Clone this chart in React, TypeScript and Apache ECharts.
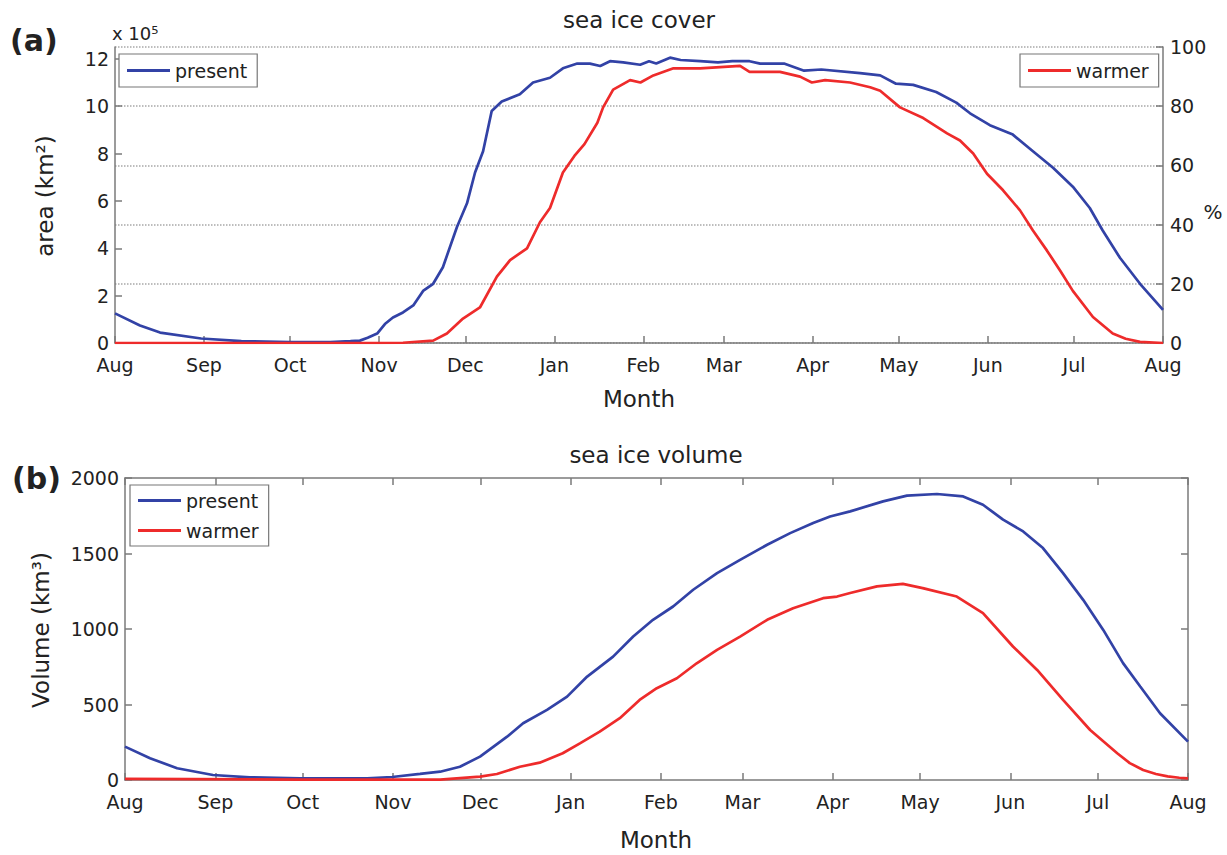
import React, { useEffect, useRef } from "react";
import * as echarts from "echarts";

const MONTH_TICKS = [0, 31, 61, 92, 122, 153, 184, 212, 243, 273, 304, 334, 365];
const MONTH_LABELS = ["Aug", "Sep", "Oct", "Nov", "Dec", "Jan", "Feb", "Mar", "Apr", "May", "Jun", "Jul", "Aug"];
const AREA_TICKS = [0, 2, 4, 6, 8, 10, 12];
const PCT_TICKS = [0, 20, 40, 60, 80, 100];
const VOL_TICKS = [0, 500, 1000, 1500, 2000];

// sea ice cover (area, x 10^5 km^2), present
const presentAreaDays = [0, 8.7, 15.7, 30, 44, 61, 75, 82, 85.3, 88, 91.3, 94, 96.8, 100.3, 104, 107.3, 110.8, 114.2, 119.1, 122.6, 125.4, 128.2, 131.2, 134.7, 141, 145.6, 151.5, 156, 161, 165.4, 169, 172.4, 177, 182.9, 186, 188.5, 193.3, 197, 203.8, 210, 215, 221, 224.7, 233, 240, 246, 259.5, 266.5, 272, 278, 286, 293, 297.8, 304.7, 312.7, 319.7, 326.7, 333.6, 339.5, 344, 350, 357, 365];
const presentArea = [1.25, 0.74, 0.44, 0.19, 0.08, 0.04, 0.04, 0.08, 0.1, 0.22, 0.4, 0.8, 1.08, 1.29, 1.6, 2.2, 2.5, 3.2, 4.9, 5.9, 7.2, 8.1, 9.8, 10.2, 10.5, 11.0, 11.2, 11.6, 11.8, 11.8, 11.7, 11.9, 11.85, 11.75, 11.9, 11.8, 12.05, 11.95, 11.9, 11.85, 11.9, 11.9, 11.8, 11.8, 11.5, 11.55, 11.4, 11.3, 10.95, 10.9, 10.6, 10.15, 9.7, 9.2, 8.8, 8.1, 7.4, 6.6, 5.7, 4.75, 3.6, 2.5, 1.4];

// sea ice cover (area, x 10^5 km^2), warmer
const warmerAreaDays = [0, 92, 100.3, 110.8, 115.6, 121.2, 127.1, 133, 137.6, 143.5, 148, 151.5, 156, 160, 163.5, 168, 170, 173.5, 179.4, 183, 187.5, 194.5, 203.8, 217.7, 221, 231.6, 238.6, 242.7, 247.3, 256, 263, 266.5, 273.4, 281.5, 289.8, 294.3, 298.9, 303.7, 309.3, 315.2, 319.7, 324.6, 329.2, 333.6, 340.6, 347.5, 352, 357, 365];
const warmerArea = [0, 0, 0.01, 0.1, 0.4, 1.03, 1.5, 2.8, 3.5, 4.0, 5.1, 5.7, 7.2, 7.9, 8.4, 9.3, 9.95, 10.7, 11.1, 11.0, 11.3, 11.6, 11.6, 11.7, 11.45, 11.45, 11.25, 11.0, 11.1, 11.0, 10.8, 10.65, 9.95, 9.5, 8.85, 8.55, 8.0, 7.15, 6.45, 5.6, 4.75, 3.9, 3.05, 2.2, 1.1, 0.4, 0.18, 0.05, 0];

// sea ice volume (km^3), present
const presentVolDays = [0, 8.6, 17.9, 30.2, 42.9, 60.1, 83.1, 91.7, 101.3, 108.2, 115, 121.9, 131.2, 136.7, 144.9, 151.8, 158.7, 167.6, 174.5, 181.3, 188.2, 195.1, 203.3, 211.2, 220.5, 228.4, 236.3, 242.1, 249, 260.3, 268.5, 278.8, 287.8, 294.6, 301.5, 308.4, 315.2, 322.1, 329, 335.9, 342.7, 348.6, 355.4, 365];
const presentVol = [221, 144, 78, 33, 18, 11, 11, 20, 40, 55, 88, 155, 287, 376, 464, 552, 685, 817, 950, 1061, 1149, 1260, 1370, 1458, 1558, 1635, 1702, 1745, 1779, 1845, 1883, 1894, 1878, 1823, 1724, 1646, 1536, 1370, 1193, 994, 774, 619, 442, 254];

// sea ice volume (km^3), warmer
const warmerVolDays = [0, 60, 100, 108.2, 121.9, 127.7, 135.6, 142.4, 150.3, 156.2, 163, 169.9, 176.7, 182.6, 189.5, 196.3, 203.3, 211.2, 220.5, 229.4, 239.7, 244.5, 249, 258.2, 267.1, 273.9, 285.6, 294.6, 304.9, 313.2, 322.1, 331.4, 340.7, 345, 349.6, 354, 358, 362, 365];
const warmerVol = [8, 2, 2, 3, 22, 40, 88, 115, 177, 243, 320, 409, 530, 608, 674, 773, 862, 950, 1061, 1138, 1204, 1215, 1238, 1282, 1299, 1271, 1215, 1105, 884, 729, 530, 331, 177, 112, 66, 40, 24, 15, 11];

const BLUE = "#3242a6";
const RED = "#ee2b2b";
const AX = "#7a7a7a";
const TXT = "#222222";
const FONT = "DejaVu Sans";

const pairs = (xs: number[], ys: number[]) => xs.map((x, i) => [x, ys[i]]);

const monthFmt = (v: number) => {
  const i = MONTH_TICKS.indexOf(Math.round(v));
  return i >= 0 ? MONTH_LABELS[i] : "";
};

function xAxisCfg(gridIndex: number, top = false) {
  return {
    type: "value",
    gridIndex,
    position: top ? "top" : "bottom",
    min: 0,
    max: 365,
    axisLine: { show: true, onZero: false, lineStyle: { color: AX, width: 1.5 } },
    axisTick: { show: true, inside: true, length: 7, customValues: MONTH_TICKS, lineStyle: { color: AX, width: 1.5 } },
    axisLabel: {
      show: !top,
      customValues: MONTH_TICKS,
      formatter: monthFmt,
      color: TXT,
      fontSize: 19,
      fontFamily: FONT,
      margin: 12,
    },
    splitLine: { show: false },
  };
}

function yAxisCfg(gridIndex: number, position: string, min: number, max: number, ticks: number[], showLabel: boolean, split = false) {
  return {
    type: "value",
    gridIndex,
    position,
    min,
    max,
    axisLine: { show: true, onZero: false, lineStyle: { color: AX, width: 1.5 } },
    axisTick: { show: true, inside: true, length: 7, customValues: ticks, lineStyle: { color: AX, width: 1.5 } },
    axisLabel: {
      show: showLabel,
      customValues: ticks,
      formatter: (v: number) => String(v),
      color: TXT,
      fontSize: 19,
      fontFamily: FONT,
      margin: position === "left" ? 6 : 7,
    },
    splitLine: split
      ? { show: true, lineStyle: { color: "#a8a8a8", width: 1.5, type: "dotted" } }
      : { show: false },
  };
}

function txt(text: string, x: number, y: number, size: number, opts: any = {}) {
  return {
    type: "text",
    x,
    y,
    rotation: opts.rotation || 0,
    style: {
      text,
      x: 0,
      y: 0,
      fill: TXT,
      fontSize: size,
      fontFamily: FONT,
      fontWeight: opts.bold ? "bold" : "normal",
      align: opts.align || "center",
      textAlign: opts.align || "center",
      verticalAlign: "middle",
      textVerticalAlign: "middle",
    },
  };
}

const legendBase = {
  borderColor: "#777",
  borderWidth: 1.2,
  backgroundColor: "#fff",
  icon: "rect",
  itemWidth: 43,
  itemHeight: 3,
  selectedMode: false,
  textStyle: { fontSize: 19, color: TXT, fontFamily: FONT },
};

export default function App() {
  const ref = useRef<HTMLDivElement>(null);
  useEffect(() => {
    if (!ref.current) return;
    const chart = echarts.init(ref.current, null, { renderer: "svg" });
    const lineStyle = (c: string) => ({ color: c, width: 2.7 });
    chart.setOption({
      animation: false,
      backgroundColor: "#ffffff",
      textStyle: { fontFamily: FONT },
      grid: [
        { left: 115, top: 47, width: 1048, height: 296, show: false },
        { left: 125, top: 478, width: 1063, height: 302, show: false },
      ],
      xAxis: [xAxisCfg(0), xAxisCfg(1), xAxisCfg(1, true)],
      yAxis: [
        yAxisCfg(0, "left", 0, 12.5, AREA_TICKS, true),
        yAxisCfg(0, "right", 0, 100, PCT_TICKS, true, true),
        yAxisCfg(1, "left", 0, 2000, VOL_TICKS, true),
        yAxisCfg(1, "right", 0, 2000, VOL_TICKS, false),
      ],
      legend: [
        { ...legendBase, data: ["present"], left: 119, top: 54, padding: [7, 10, 7, 8] },
        { ...legendBase, data: ["warmer"], left: 1020, top: 54, padding: [7, 10, 7, 8] },
        { ...legendBase, data: ["present", "warmer"], orient: "vertical", left: 130, top: 485, itemGap: 11, padding: [6, 10, 6, 8] },
      ],
      series: [
        { name: "present", type: "line", xAxisIndex: 0, yAxisIndex: 0, symbol: "none", data: pairs(presentAreaDays, presentArea), lineStyle: lineStyle(BLUE), itemStyle: { color: BLUE } },
        { name: "warmer", type: "line", xAxisIndex: 0, yAxisIndex: 0, symbol: "none", data: pairs(warmerAreaDays, warmerArea), lineStyle: lineStyle(RED), itemStyle: { color: RED } },
        { name: "present", type: "line", xAxisIndex: 1, yAxisIndex: 2, symbol: "none", data: pairs(presentVolDays, presentVol), lineStyle: lineStyle(BLUE), itemStyle: { color: BLUE } },
        { name: "warmer", type: "line", xAxisIndex: 1, yAxisIndex: 2, symbol: "none", data: pairs(warmerVolDays, warmerVol), lineStyle: lineStyle(RED), itemStyle: { color: RED } },
      ],
      graphic: [
        txt("(a)", 10, 40, 30, { bold: true, align: "left" }),
        txt("(b)", 12, 478, 30, { bold: true, align: "left" }),
        txt("sea ice cover", 639, 20, 23),
        txt("sea ice volume", 656, 455, 23),
        txt("Month", 639, 399, 23),
        txt("Month", 656, 840, 23),
        txt("area (km²)", 45, 196, 23, { rotation: Math.PI / 2 }),
        txt("Volume (km³)", 41, 630, 23, { rotation: Math.PI / 2 }),
        txt("%", 1213, 212, 20),
        txt("x 10⁵", 112, 33, 18, { align: "left" }),
      ],
    });
    return () => chart.dispose();
  }, []);
  return (
    <div
      ref={ref}
      style={{ position: "fixed", left: 0, top: 0, width: "1227px", height: "855px", background: "#fff" }}
    />
  );
}
